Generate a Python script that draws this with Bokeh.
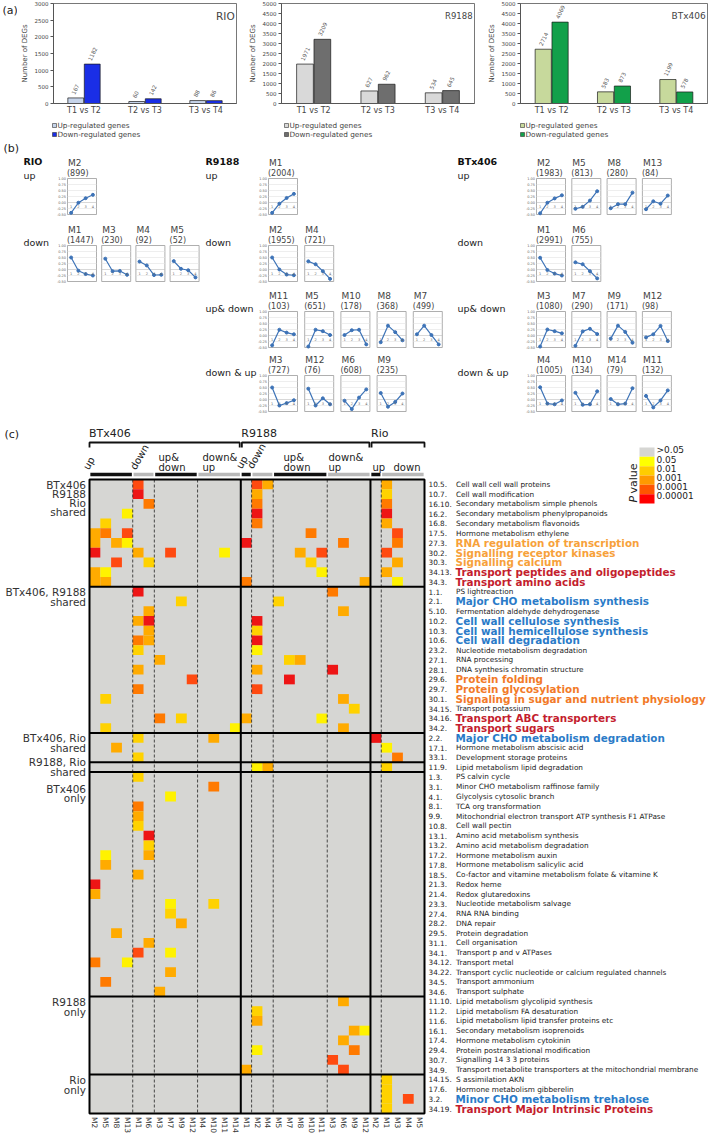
import math
from bokeh.plotting import figure
from bokeh.layouts import column, row
from bokeh.models import ColumnDataSource, FactorRange, Range1d, Spacer
from bokeh.transform import dodge
from bokeh.core.properties import value
from bokeh.embed import file_html
from bokeh.resources import INLINE

FONT = "DejaVu Sans"

# ---------------- panel (a) data
comparisons = ["T1 vs T2", "T2 vs T3", "T3 vs T4"]
rio_up = [167, 60, 88]
rio_down = [1182, 142, 86]
r9188_up = [1971, 627, 534]
r9188_down = [3209, 962, 645]
btx_up = [2714, 583, 1199]
btx_down = [4069, 873, 578]
legend_labels = ["Up-regulated genes", "Down-regulated genes"]

# ---------------- panel (b) data
profile_times = [1, 2, 3, 4]
profile_ticks = [1.0, 0.75, 0.5, 0.25, 0.0, -0.25, -0.5]
rio_groups = ["up", "down"]
rio_names = [["M2"], ["M1", "M3", "M4", "M5"]]
rio_counts = [[899], [1447, 230, 92, 52]]
rio_profiles = [
    [[-0.43, -0.01, 0.18, 0.32]],
    [[0.50, -0.05, -0.19, -0.25], [0.45, -0.07, -0.06, -0.22],
     [0.33, 0.17, -0.23, -0.22], [0.35, 0.03, -0.03, -0.33]],
]
r9188_groups = ["up", "down", "up& down", "down & up"]
r9188_names = [["M1"], ["M2", "M4"], ["M11", "M5", "M10", "M8", "M7"], ["M3", "M12", "M6", "M9"]]
r9188_counts = [[2004], [1955, 721], [103, 651, 178, 368, 499], [727, 76, 608, 235]]
r9188_profiles = [
    [[-0.43, -0.05, 0.19, 0.36]],
    [[0.50, 0.00, -0.21, -0.24], [0.34, 0.22, -0.07, -0.39]],
    [[-0.41, 0.24, 0.12, 0.05], [-0.46, 0.24, 0.18, 0.02], [0.02, 0.22, 0.24, -0.37],
     [-0.28, 0.41, 0.14, -0.20], [0.05, 0.41, 0.02, -0.37]],
    [[0.50, -0.25, -0.15, -0.03], [0.45, -0.25, 0.05, -0.20], [-0.05, -0.40, 0.08, 0.42],
     [0.27, -0.30, -0.10, 0.25]],
]
btx_groups = ["up", "down", "up& down", "down & up"]
btx_names = [["M2", "M5", "M8", "M13"], ["M1", "M6"], ["M3", "M7", "M9", "M12"], ["M4", "M10", "M14", "M11"]]
btx_counts = [[1983, 813, 280, 84], [2991, 755], [1080, 290, 171, 98], [1005, 134, 79, 132]]
btx_profiles = [
    [[-0.45, -0.01, 0.17, 0.30], [-0.26, -0.18, 0.08, 0.47], [-0.24, -0.07, -0.07, 0.41],
     [-0.28, 0.05, -0.05, 0.29]],
    [[0.49, -0.02, -0.17, -0.25], [0.30, 0.22, -0.07, -0.37]],
    [[-0.46, 0.25, 0.18, 0.09], [-0.43, 0.17, 0.28, 0.06], [-0.13, 0.41, 0.15, -0.30],
     [-0.08, 0.05, 0.40, -0.23]],
    [[0.51, -0.17, -0.20, -0.04], [0.28, -0.22, -0.20, 0.34], [0.02, -0.20, -0.17, 0.47],
     [0.15, -0.33, -0.04, 0.38]],
]

# ---------------- panel (c) data
genotype_headers = ["BTx406", "R9188", "Rio"]
column_modules = ["M2", "M5", "M8", "M13", "M1", "M6", "M3", "M7", "M9", "M12", "M4", "M10", "M11", "M14",
                  "M1", "M2", "M4", "M5", "M7", "M8", "M10", "M11", "M3", "M6", "M9", "M12",
                  "M2", "M1", "M3", "M4", "M5"]
row_codes = ["10.5.", "10.7.", "16.10.", "16.2.", "16.8.", "17.5.", "27.3.", "30.2.", "30.3.", "34.13.", "34.3.",
             "1.1.", "2.1.", "5.10.", "10.2.", "10.3.", "10.6.", "23.2.", "27.1.", "28.1.", "29.6.", "29.7.",
             "30.1.", "34.15.", "34.16.", "34.2.",
             "2.2.", "17.1.", "33.1.",
             "11.9.",
             "1.3.", "3.1.", "4.1.", "8.1.", "9.9.", "10.8.", "13.1.", "13.2.", "17.2.", "17.8.", "18.5.",
             "21.3.", "21.4.", "23.3.", "27.4.", "28.2.", "29.5.", "31.1.", "34.1.", "34.12.", "34.22.",
             "34.5.", "34.6.",
             "11.10.", "11.2.", "11.6.", "16.1.", "17.4.", "29.4.", "30.7.", "34.9.",
             "14.15.", "17.6.", "3.2.", "34.19."]
row_names = ["Cell wall cell wall proteins", "Cell wall modification", "Secondary metabolism simple phenols",
             "Secondary metabolism phenylpropanoids", "Secondary metabolism flavonoids",
             "Hormone metabolism ethylene", "RNA regulation of transcription", "Signalling receptor kinases",
             "Signalling calcium", "Transport peptides and oligopeptides", "Transport amino acids",
             "PS lightreaction", "Major CHO metabolism synthesis", "Fermentation aldehyde dehydrogenase",
             "Cell wall cellulose synthesis", "Cell wall hemicellulose synthesis", "Cell wall degradation",
             "Nucleotide metabolism degradation", "RNA processing", "DNA synthesis chromatin structure",
             "Protein folding", "Protein glycosylation", "Signaling in sugar and nutrient physiology",
             "Transport potassium", "Transport ABC transporters", "Transport sugars",
             "Major CHO metabolism degradation", "Hormone metabolism abscisic acid",
             "Development storage proteins",
             "Lipid metabolism lipid degradation",
             "PS calvin cycle", "Minor CHO metabolism raffinose family", "Glycolysis cytosolic branch",
             "TCA  org transformation", "Mitochondrial electron transport ATP synthesis F1 ATPase",
             "Cell wall pectin", "Amino acid metabolism synthesis", "Amino acid metabolism degradation",
             "Hormone metabolism auxin", "Hormone metabolism salicylic acid",
             "Co-factor and vitamine metabolism folate & vitamine K", "Redox heme", "Redox glutaredoxins",
             "Nucleotide metabolism salvage", "RNA RNA binding", "DNA repair", "Protein degradation",
             "Cell organisation", "Transport p  and v ATPases", "Transport metal",
             "Transport cyclic nucleotide or calcium regulated channels", "Transport ammonium",
             "Transport sulphate",
             "Lipid metabolism glycolipid synthesis", "Lipid metabolism FA desaturation",
             "Lipid metabolism lipid transfer proteins etc", "Secondary metabolism isoprenoids",
             "Hormone metabolism cytokinin", "Protein postranslational modification",
             "Signalling 14 3 3 proteins", "Transport metabolite transporters at the mitochondrial membrane",
             "S assimilation AKN", "Hormone metabolism gibberelin", "Minor CHO metabolism trehalose",
             "Transport Major Intrinsic Proteins"]
row_highlight = {6: "o1", 7: "o1", 8: "o1", 9: "r", 10: "r", 12: "b", 14: "b", 15: "b", 16: "b",
                 20: "o2", 21: "o2", 22: "o2", 24: "r", 25: "r", 26: "b", 63: "b", 64: "r"}
group_labels = [["BTx406", "R9188", "Rio", "shared"], ["BTx406, R9188", "shared"], ["BTx406, Rio", "shared"],
                ["R9188, Rio", "shared"], ["BTx406", "only"], ["R9188", "only"], ["Rio", "only"]]
group_sizes = [11, 15, 3, 1, 23, 8, 4]
pvalue_labels = [">0.05", "0.05", "0.01", "0.001", "0.0001", "0.00001"]
# (row, column, significance level 1..6)
hm_cells = [
    (0, 4, 5), (0, 15, 5), (0, 16, 3), (0, 27, 3),
    (1, 4, 6), (1, 15, 3), (1, 27, 2),
    (2, 5, 4), (2, 15, 4), (2, 27, 4),
    (3, 3, 1), (3, 15, 6), (3, 27, 6),
    (4, 1, 2), (4, 15, 4), (4, 27, 3),
    (5, 0, 3), (5, 1, 4), (5, 3, 5), (5, 20, 4), (5, 28, 5),
    (6, 0, 3), (6, 2, 3), (6, 3, 1), (6, 14, 6), (6, 23, 4), (6, 28, 4),
    (7, 0, 6), (7, 4, 3), (7, 7, 5), (7, 12, 1), (7, 19, 3), (7, 21, 5), (7, 27, 5),
    (8, 2, 5), (8, 5, 2), (8, 20, 2), (8, 28, 3),
    (9, 0, 3), (9, 1, 1), (9, 21, 1), (9, 27, 3),
    (10, 0, 3), (10, 1, 3), (10, 14, 4), (10, 25, 3), (10, 28, 1),
    (11, 4, 6), (11, 22, 4),
    (12, 8, 2), (12, 17, 2),
    (13, 5, 3), (13, 23, 3),
    (14, 4, 3), (14, 5, 6), (14, 15, 6),
    (15, 5, 3), (15, 15, 2),
    (16, 4, 4), (16, 5, 3), (16, 15, 6),
    (17, 4, 2), (17, 15, 1),
    (18, 6, 3), (18, 18, 2), (18, 19, 3),
    (19, 4, 3), (19, 15, 3), (19, 22, 6),
    (20, 9, 5), (20, 18, 6),
    (21, 4, 4), (21, 15, 5),
    (22, 1, 2), (22, 23, 3),
    (23, 24, 2),
    (24, 6, 4), (24, 8, 2), (24, 14, 3), (24, 21, 1),
    (25, 1, 2), (25, 13, 1), (25, 23, 3),
    (26, 4, 2), (26, 11, 3), (26, 26, 6),
    (27, 2, 3), (27, 27, 1),
    (28, 4, 2), (28, 28, 4),
    (29, 15, 1), (29, 16, 3), (29, 27, 2),
    (30, 4, 2), (31, 11, 4), (32, 7, 1), (33, 4, 4), (34, 4, 3), (35, 4, 2), (36, 5, 6), (37, 5, 2),
    (38, 1, 1), (38, 5, 3), (39, 1, 3), (40, 4, 3), (41, 0, 6), (42, 0, 3), (43, 7, 1), (43, 11, 2),
    (44, 7, 2), (45, 8, 3), (46, 2, 3), (47, 5, 3), (48, 4, 5), (48, 7, 1), (49, 0, 4), (49, 3, 1),
    (50, 7, 3), (51, 1, 4), (52, 6, 3),
    (53, 23, 3), (54, 15, 2), (55, 15, 3), (56, 24, 3), (56, 25, 1), (57, 23, 3), (58, 15, 1),
    (58, 24, 4), (59, 22, 5), (60, 14, 3), (60, 23, 5),
    (61, 27, 2), (62, 27, 2), (63, 27, 2), (63, 29, 5), (64, 27, 2),
]

# ---------------- styles
LEVEL_COLORS = {1: "#fff200", 2: "#ffd200", 3: "#ffab00", 4: "#ff7a00", 5: "#ff4a10", 6: "#ee1515"}
LEGEND_COLORS = ["#d6d6d3", "#ffff00", "#ffcc00", "#ff9900", "#ff5500", "#ff0000"]
HL_COLORS = {"o1": "#f7a13a", "o2": "#f27a28", "r": "#c41e2e", "b": "#2a7bc8"}
TXT = "#333333"
W = 709


def base_fig(w, h, xr, yr):
    p = figure(width=w, height=h, x_range=xr, y_range=yr, output_backend="svg",
               toolbar_location=None, min_border=0, x_axis_location=None, y_axis_location=None)
    p.grid.visible = False
    p.outline_line_color = None
    p.background_fill_color = "white"
    p.border_fill_color = "white"
    return p


def txt(p, x, y, t, size, color=TXT, align="left", baseline="middle", style="normal", angle=0.0):
    p.text(x=x, y=y, text=t, text_font=value(FONT), text_font_size=size, text_color=color,
           text_align=align, text_baseline=baseline, text_font_style=style, angle=angle)


# ---------------- panel (a)
def bar_panel(name, name_size, up, down, ymax, step, c_up, c_down, w, bl, br):
    src = ColumnDataSource(dict(cmp=comparisons, up=up, down=down,
                                up_t=[str(v) for v in up], down_t=[str(v) for v in down]))
    p = figure(width=w, height=118, x_range=FactorRange(*comparisons), y_range=Range1d(0, ymax),
               output_backend="svg", toolbar_location=None,
               min_border_left=bl, min_border_right=br, min_border_top=3, min_border_bottom=15)
    p.vbar(x=dodge("cmp", -0.135, range=p.x_range), top="up", width=0.26, source=src,
           fill_color=c_up, line_color="#1a1a1a", line_width=0.7)
    p.vbar(x=dodge("cmp", 0.135, range=p.x_range), top="down", width=0.26, source=src,
           fill_color=c_down, line_color="#1a1a1a", line_width=0.7)
    for off, col, tcol in ((-0.135, "up", "up_t"), (0.135, "down", "down_t")):
        p.text(x=dodge("cmp", off, range=p.x_range), y=col, text=tcol, source=src,
               angle=math.radians(65), y_offset=-4, x_offset=-3,
               text_font=value(FONT), text_font_size="5.5px", text_color="#555555",
               text_align="left", text_baseline="middle")
    nsrc = ColumnDataSource(dict(x=[comparisons[-1]], y=[ymax * 0.88], t=[name]))
    p.text(x=dodge("x", 0.47, range=p.x_range), y="y", text="t", source=nsrc,
           text_font=value(FONT), text_font_size=name_size, text_color="#444444",
           text_align="right", text_baseline="middle")
    p.xgrid.visible = False
    p.ygrid.visible = False
    p.outline_line_color = "#555555"
    p.outline_line_width = 0.8
    p.yaxis.ticker = list(range(0, ymax + 1, step))
    p.yaxis.axis_label = "Number of DEGs"
    p.yaxis.axis_label_text_font = FONT
    p.yaxis.axis_label_text_font_size = "7px"
    p.yaxis.axis_label_text_font_style = "normal"
    p.yaxis.axis_label_text_color = "#444444"
    p.yaxis.axis_label_standoff = 3
    p.yaxis.major_label_text_font_size = "5.5px"
    p.yaxis.major_label_standoff = 2
    p.yaxis.major_tick_out = 3
    p.yaxis.major_tick_in = 0
    p.yaxis.minor_tick_line_color = None
    p.axis.axis_line_color = "#555555"
    p.axis.major_tick_line_color = "#555555"
    p.axis.major_label_text_font = FONT
    p.axis.major_label_text_color = "#444444"
    p.xaxis.major_tick_line_color = None
    p.xaxis.major_tick_out = 0
    p.xaxis.major_label_text_font_size = "8px"
    p.xaxis.major_label_standoff = 2
    return p


afig = base_fig(17, 20, Range1d(0, 17), Range1d(20, 0))
txt(afig, [2], [10], ["(a)"], "11px", "#222222")
fa1 = bar_panel("RIO", "10.5px", rio_up, rio_down, 3000, 500, "#c6d4ea", "#1a2ee6", 220, 33, 1)
fa2 = bar_panel("R9188", "8.5px", r9188_up, r9188_down, 5000, 500, "#d9d9d9", "#6e6e6e", 239, 44, 2)
fa3 = bar_panel("BTx406", "9px", btx_up, btx_down, 5000, 500, "#c7d99c", "#12a04a", 233, 44, 2)

# legend strip below panel (a)
fleg = base_fig(W, 22, Range1d(0, W), Range1d(140, 118))
leg_pos = [(52, "#c6d4ea", "#1a2ee6"), (284, "#d9d9d9", "#6e6e6e"), (520, "#c7d99c", "#12a04a")]
for lx, cu, cd in leg_pos:
    for yy, cc, lab in ((125, cu, legend_labels[0]), (134, cd, legend_labels[1])):
        fleg.quad(left=[lx], right=[lx + 4], top=[yy - 2], bottom=[yy + 2], fill_color=cc,
                  line_color="#333333", line_width=0.6)
        txt(fleg, [lx + 5], [yy], [lab], "7.3px", "#444444")

# ---------------- panel (b)
pb = base_fig(W, 274, Range1d(0, W), Range1d(414, 140))
txt(pb, [3], [148], ["(b)"], "11px", "#222222")
geno_b = [("RIO", rio_groups, rio_names, rio_counts, rio_profiles),
          ("R9188", r9188_groups, r9188_names, r9188_counts, r9188_profiles),
          ("BTx406", btx_groups, btx_names, btx_counts, btx_profiles)]
b_title_x = [23, 205, 457]
b_box_x0 = [67, 268, 536]
b_box_step = [34.2, 36.2, 35.3]
b_row_top = {"up": 178, "down": 245, "up& down": 311, "down & up": 375}
BW, BH = 29.0, 36.0

bl_, br_, bt_, bb_ = [], [], [], []
gx0, gx1, gy, gc = [], [], [], []
lxs, lys, px_, py_ = [], [], [], []
nx, ny, nt = [], [], []
cx, cy, ct = [], [], []
tx, ty, tt = [], [], []
xx, xy, xt = [], [], []
for gi, (gname, groups, names, counts, profiles) in enumerate(geno_b):
    txt(pb, [b_title_x[gi]], [161], [gname], "9.5px", "#111111", style="bold")
    for ri, grp in enumerate(groups):
        top = b_row_top[grp]
        txt(pb, [b_title_x[gi]], [top - 3.5], [grp], "9.5px", "#222222")
        for k, (nm, cnt, prof) in enumerate(zip(names[ri], counts[ri], profiles[ri])):
            bx = b_box_x0[gi] + k * b_box_step[gi]
            bl_.append(bx); br_.append(bx + BW); bt_.append(top); bb_.append(top + BH)
            for tv in profile_ticks[1:-1]:
                gx0.append(bx); gx1.append(bx + BW)
                gy.append(top + (1.0 - tv) / 1.5 * BH)
                gc.append("#bdbdbd" if tv == 0.0 else "#e2e2e2")
            xs = [bx + (t - 0.5) / 4.0 * BW for t in profile_times]
            ys = [top + (1.0 - v) / 1.5 * BH for v in prof]
            lxs.append(xs); lys.append(ys)
            px_ += xs; py_ += ys
            nx.append(bx + 0.5); ny.append(top - 16); nt.append(nm)
            cx.append(bx - 0.5); cy.append(top - 5); ct.append("(%d)" % cnt)
            for t, xv in zip(profile_times, xs):
                xx.append(xv); xy.append(top + (1.0 + 0.17) / 1.5 * BH); xt.append(str(t))
            if k == 0:
                for tv in profile_ticks:
                    tx.append(bx - 1.5); ty.append(top + (1.0 - tv) / 1.5 * BH); tt.append("%.2f" % tv)

pb.quad(left=bl_, right=br_, top=bt_, bottom=bb_, fill_color="white", line_color="#9a9a9a", line_width=0.8)
pb.segment(x0=gx0, y0=gy, x1=gx1, y1=gy, line_color=gc, line_width=0.6)
pb.multi_line(xs=lxs, ys=lys, line_color="#3d73b7", line_width=1.2)
pb.scatter(x=px_, y=py_, size=3, marker="circle", fill_color="#3d73b7", line_color="#3d73b7")
txt(pb, nx, ny, nt, "9px", "#444444")
txt(pb, cx, cy, ct, "8px", "#444444")
txt(pb, tx, ty, tt, "3.5px", "#666666", align="right")
txt(pb, xx, xy, xt, "3.5px", "#666666", align="center")

# ---------------- panel (c)
NC, NR = len(column_modules), len(row_codes)
CW = 335.0 / NC
RH = 634.0 / NR


def X(px):
    return (px - 89.0) / CW


def Y(py):
    return (py - 479.0) / RH


pc = base_fig(W, 721, Range1d(X(0), X(W)), Range1d(Y(1135), Y(414)))
txt(pc, [X(4)], [Y(434)], ["(c)"], "11px", "#222222")

# background and cells
pc.quad(left=[0], right=[NC], top=[0], bottom=[NR], fill_color="#d6d6d3", line_color=None)
csrc = ColumnDataSource(dict(x=[c + 0.5 for r, c, l in hm_cells], y=[r + 0.5 for r, c, l in hm_cells],
                             color=[LEVEL_COLORS[l] for r, c, l in hm_cells]))
pc.rect(x="x", y="y", width=1.0, height=1.0, fill_color="color", line_color=None, source=csrc)

# separators
dashed_cols = [4, 6, 10, 15, 17, 22, 27]
pc.segment(x0=dashed_cols, y0=[0] * len(dashed_cols), x1=dashed_cols, y1=[NR] * len(dashed_cols),
           line_color="#222222", line_width=0.8, line_dash="3 2")
geno_cols = [14, 26]
pc.segment(x0=geno_cols, y0=[0, 0], x1=geno_cols, y1=[NR, NR], line_color="black", line_width=2)
bounds = []
acc = 0
for s in group_sizes[:-1]:
    acc += s
    bounds.append(acc)
pc.segment(x0=[0] * len(bounds), y0=bounds, x1=[NC] * len(bounds), y1=bounds, line_color="black", line_width=2)
pc.quad(left=[0], right=[NC], top=[0], bottom=[NR], fill_color=None, line_color="black", line_width=2)

# genotype headers and brackets
geno_spans = [(0.0, 13.9), (14.1, 25.9), (26.1, 31.0)]
for name, (a, b) in zip(genotype_headers, geno_spans):
    txt(pc, [a - 0.05], [Y(433)], [name], "11px", "#222222")
    pc.multi_line(xs=[[a, a, b, b]], ys=[[Y(447), Y(442), Y(442), Y(447)]], line_color="#111111", line_width=1.8)

# sub headers
sub_text = [("up", 90, 471, 60), ("down", 137, 471, 60), ("up&", 158, 457, 0), ("down", 158, 467, 0),
            ("down&", 202, 457, 0), ("up", 202, 467, 0),
            ("up", 243, 470, 60), ("down", 254, 470, 60), ("up&", 283, 457, 0), ("down", 283, 467, 0),
            ("down&", 328, 457, 0), ("up", 328, 467, 0),
            ("up", 372, 467, 0), ("down", 393, 467, 0)]
for t, x0, y0, ang in sub_text:
    txt(pc, [X(x0)], [Y(y0)], [t], "10px", "#222222", baseline="bottom" if ang else "middle",
        angle=math.radians(ang))
sub_bars = [(0.0, 4.0, "#111111"), (4.0, 6.0, "#b9b9b9"), (6.0, 10.0, "#111111"), (10.0, 14.0, "#b9b9b9"),
            (14.0, 15.0, "#111111"), (15.0, 17.0, "#b9b9b9"), (17.0, 22.0, "#111111"), (22.0, 26.0, "#b9b9b9"),
            (26.0, 27.0, "#111111"), (27.0, 31.0, "#b9b9b9")]
pc.quad(left=[a + 0.08 for a, b, c in sub_bars], right=[b - 0.08 for a, b, c in sub_bars],
        top=[Y(472.3)] * len(sub_bars), bottom=[Y(475.7)] * len(sub_bars),
        fill_color=[c for a, b, c in sub_bars], line_color=None)

# left group labels
grp_y = [[484, 493.3, 502.6, 511.9], [591.5, 601], [737.5, 747], [761.5, 771], [788, 797.5], [1001, 1011],
         [1079.5, 1089.5]]
for labs, ys in zip(group_labels, grp_y):
    txt(pc, [X(85.5)] * len(labs), [Y(v) for v in ys], labs, "10.5px", "#333333", align="right")

# right labels
ry = [r + 0.5 for r in range(NR)]
txt(pc, [X(428)] * NR, ry, row_codes, "7.3px", "#222222")
n_idx = [i for i in range(NR) if i not in row_highlight]
txt(pc, [X(455.5)] * len(n_idx), [ry[i] for i in n_idx], [row_names[i] for i in n_idx], "7.3px", "#222222")
for i, st in row_highlight.items():
    txt(pc, [X(455)], [ry[i]], [row_names[i]], "10.4px", HL_COLORS[st], style="bold")

# bottom column labels
txt(pc, [c + 0.5 for c in range(NC)], [Y(1116.5)] * NC, column_modules, "7.5px", "#333333",
    angle=-math.pi / 2)

# P value legend
nb = len(pvalue_labels)
band = (503.0 - 447.0) / nb
pc.quad(left=[X(639)] * nb, right=[X(654)] * nb, top=[Y(447 + i * band) for i in range(nb)],
        bottom=[Y(447 + (i + 1) * band) for i in range(nb)], fill_color=LEGEND_COLORS, line_color=None)
txt(pc, [X(656)] * nb, [Y(449.5 + i * 9.0) for i in range(nb)], pvalue_labels, "9px", "#222222")
txt(pc, [X(633)], [Y(502)], ["P"], "11px", "#222222", style="italic", angle=math.pi / 2)
txt(pc, [X(633)], [Y(493)], ["value"], "11px", "#222222", angle=math.pi / 2)

layout = column(row(column(afig, Spacer(width=17, height=98)), fa1, fa2, fa3), fleg, pb, pc)
open("out.html", "w").write(file_html(layout, INLINE))
